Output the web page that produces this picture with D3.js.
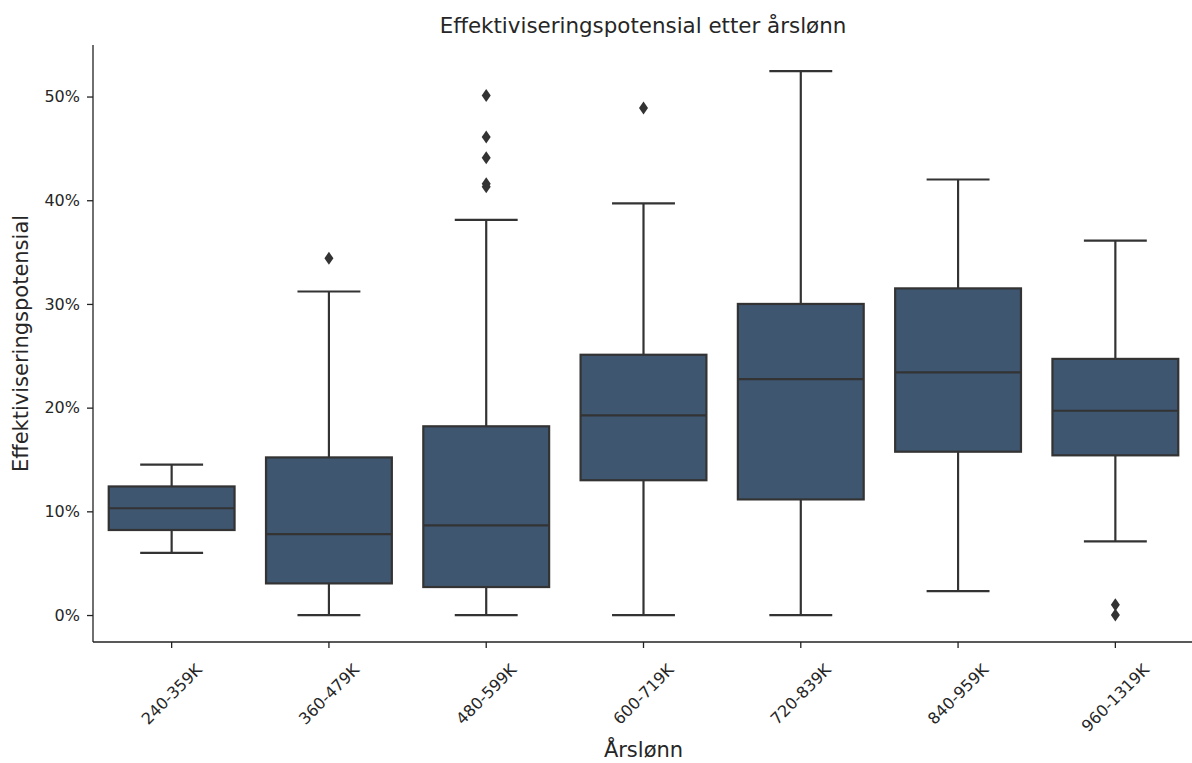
<!DOCTYPE html>
<html>
<head>
<meta charset="utf-8">
<script src="https://cdn.jsdelivr.net/npm/d3@7"></script>
<style>
  html, body { margin: 0; padding: 0; background: #fff; }
  svg { display: block; font-family: "DejaVu Sans", sans-serif; }
</style>
</head>
<body>
<svg id="chart" width="1192" height="763"></svg>
<script>
// ---- data (values in %) ----
const categories = ["240-359K", "360-479K", "480-599K", "600-719K", "720-839K", "840-959K", "960-1319K"];
const whiskerLow  = [6.0, 0.0, 0.0, 0.0, 0.0, 2.3, 7.1];
const q1          = [8.2, 3.05, 2.7, 13.0, 11.15, 15.75, 15.4];
const median      = [10.3, 7.8, 8.65, 19.25, 22.75, 23.4, 19.7];
const q3          = [12.4, 15.2, 18.2, 25.1, 30.0, 31.5, 24.7];
const whiskerHigh = [14.5, 31.2, 38.1, 39.7, 52.45, 42.0, 36.1];
const outliers    = [[], [34.4], [50.1, 46.1, 44.1, 41.6, 41.3], [48.9], [], [], [1.0, 0.0]];
const yTicks      = [0, 10, 20, 30, 40, 50];
const titleText   = "Effektiviseringspotensial etter årslønn";
const xLabelText  = "Årslønn";
const yLabelText  = "Effektiviseringspotensial";

const rows = categories.map((c, i) => ({
  cat: c, lo: whiskerLow[i], q1: q1[i], med: median[i], q3: q3[i], hi: whiskerHigh[i], out: outliers[i]
}));

// ---- layout ----
const svg = d3.select("#chart");
const pL = 93, pR = 1194, pT = 45, pB = 642;
const boxFill = "#3f5670", lineCol = "#333333", lw = 2.2;

const x = d3.scaleBand().domain(categories).range([pL, pR]).paddingInner(0).paddingOuter(0);
const y = d3.scaleLinear().domain([-2.6, 54.97]).range([pB, pT]);
const bw = x.bandwidth() * 0.8;

const g = svg.append("g");

rows.forEach(r => {
  const cx = x(r.cat) + x.bandwidth() / 2;
  const grp = g.append("g");
  grp.append("line").attr("x1", cx).attr("x2", cx).attr("y1", y(r.q3)).attr("y2", y(r.hi))
    .attr("stroke", lineCol).attr("stroke-width", lw);
  grp.append("line").attr("x1", cx).attr("x2", cx).attr("y1", y(r.q1)).attr("y2", y(r.lo))
    .attr("stroke", lineCol).attr("stroke-width", lw);
  [r.lo, r.hi].forEach(v => {
    grp.append("line").attr("x1", cx - bw / 4).attr("x2", cx + bw / 4).attr("y1", y(v)).attr("y2", y(v))
      .attr("stroke", lineCol).attr("stroke-width", lw);
  });
  grp.append("rect").attr("x", cx - bw / 2).attr("width", bw)
    .attr("y", y(r.q3)).attr("height", y(r.q1) - y(r.q3))
    .attr("fill", boxFill).attr("stroke", lineCol).attr("stroke-width", lw);
  grp.append("line").attr("x1", cx - bw / 2).attr("x2", cx + bw / 2).attr("y1", y(r.med)).attr("y2", y(r.med))
    .attr("stroke", lineCol).attr("stroke-width", lw);
  r.out.forEach(v => {
    const py = y(v);
    grp.append("path")
      .attr("d", `M${cx},${py - 6.5} L${cx + 4.5},${py} L${cx},${py + 6.5} L${cx - 4.5},${py} Z`)
      .attr("fill", lineCol);
  });
});

// ---- axes ----
const axisCol = "#222";
const tickCol = "#262626";
const yAxis = svg.append("g").attr("transform", `translate(${pL},0)`)
  .call(d3.axisLeft(y).tickValues(yTicks).tickFormat(d => d + "%").tickSize(6).tickPadding(7));
yAxis.select(".domain").attr("d", `M0,${pT}V${pB}`).attr("stroke", axisCol).attr("stroke-width", 1.3);
yAxis.selectAll(".tick line").attr("stroke", axisCol).attr("stroke-width", 1.3);
yAxis.selectAll(".tick text").attr("font-size", 16).attr("fill", tickCol)
  .attr("font-family", "DejaVu Sans");

const xAxis = svg.append("g").attr("transform", `translate(0,${pB})`)
  .call(d3.axisBottom(x).tickSize(6).tickFormat(d => d));
xAxis.select(".domain").attr("d", `M${pL},0H${1192}`).attr("stroke", axisCol).attr("stroke-width", 1.3);
xAxis.selectAll(".tick line").attr("stroke", axisCol).attr("stroke-width", 1.3);
xAxis.selectAll(".tick text").each(function () {
  const t = d3.select(this);
  t.attr("font-size", 16).attr("fill", tickCol).attr("font-family", "DejaVu Sans")
    .attr("text-anchor", "middle").attr("dy", null).attr("dominant-baseline", "central");
  const w = this.getComputedTextLength();
  const h = 16 * 1.05;
  const half = (w + h) / (2 * Math.SQRT2);
  const cy = 661 - pB + half;
  t.attr("y", 0).attr("transform", `translate(0,${cy}) rotate(-45)`);
});

// ---- labels ----
svg.append("text").attr("x", (pL + pR) / 2 - 0.5).attr("y", 33)
  .attr("text-anchor", "middle").attr("font-size", 21.4).attr("fill", "#262626")
  .text(titleText);
svg.append("text").attr("x", (pL + pR) / 2).attr("y", 757)
  .attr("text-anchor", "middle").attr("font-size", 21).attr("fill", "#262626")
  .text(xLabelText);
svg.append("text").attr("transform", `translate(28,${(pT + pB) / 2}) rotate(-90)`)
  .attr("text-anchor", "middle").attr("font-size", 21).attr("fill", "#262626")
  .text(yLabelText);
</script>
</body>
</html>
